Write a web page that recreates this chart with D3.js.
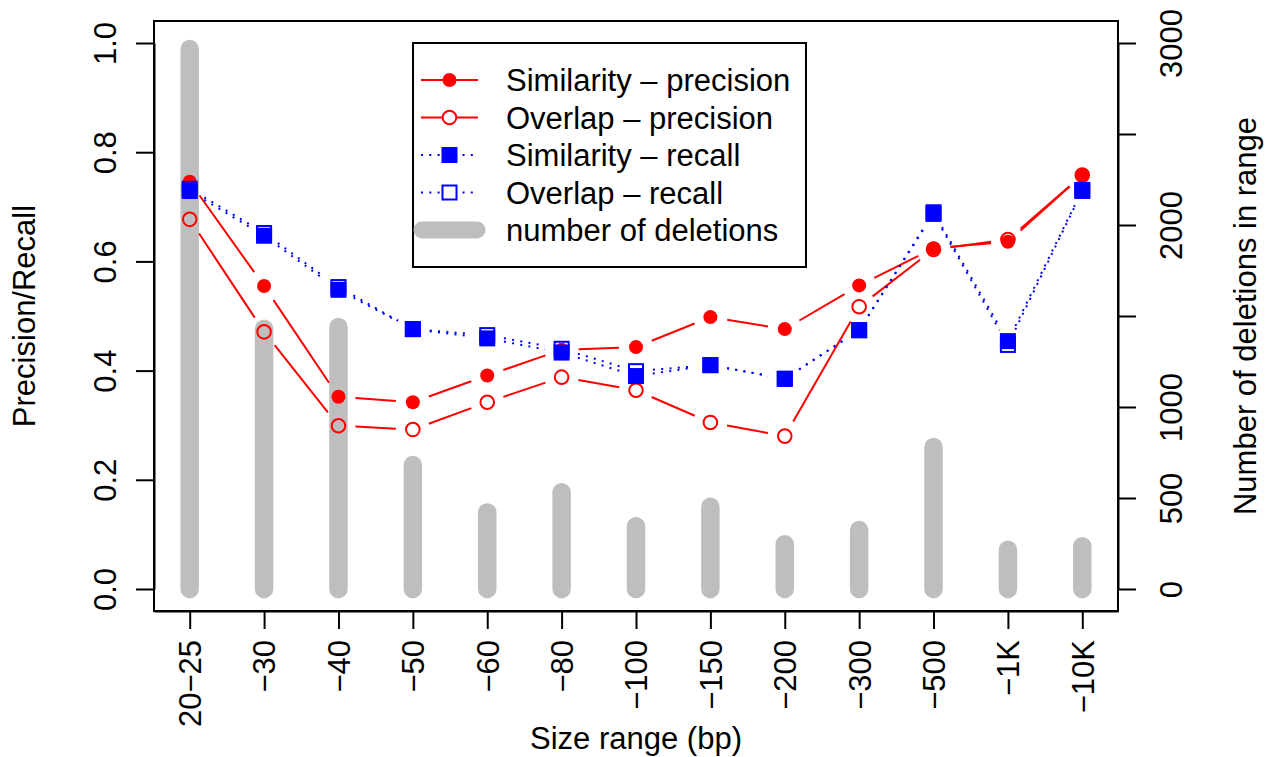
<!DOCTYPE html>
<html>
<head>
<meta charset="utf-8">
<script src="https://cdnjs.cloudflare.com/ajax/libs/d3/7.8.5/d3.min.js"></script>
<style>
  body { margin: 0; background: #fff; }
  text { font-family: "Liberation Sans", Arial, Helvetica, sans-serif; }
</style>
</head>
<body>
<div id="chart"></div>
<script>
// Data
var sizeRanges   = ['20\u221225', '\u221230', '\u221240', '\u221250', '\u221260', '\u221280', '\u2212100',
                    '\u2212150', '\u2212200', '\u2212300', '\u2212500', '\u22121K', '\u221210K'];
var simPrecision = [0.746, 0.555, 0.352, 0.342, 0.391, 0.438, 0.443, 0.498, 0.476, 0.556, 0.624, 0.636, 0.758];
var ovlPrecision = [0.677, 0.471, 0.299, 0.292, 0.342, 0.388, 0.364, 0.305, 0.280, 0.517, 0.622, 0.640, 0.758];
var simRecall    = [0.729, 0.647, 0.548, 0.476, 0.459, 0.433, 0.390, 0.410, 0.385, 0.474, 0.690, 0.454, 0.731];
var ovlRecall    = [0.733, 0.652, 0.553, 0.476, 0.465, 0.440, 0.399, 0.410, 0.385, 0.474, 0.687, 0.447, 0.729];
var deletions    = [2967, 1430, 1440, 681, 421, 531, 345, 452, 246, 324, 780, 216, 235];

var precisionTicks = [0, 0.2, 0.4, 0.6, 0.8, 1.0];
var countTicks     = [0, 500, 1000, 1500, 2000, 2500, 3000];
var countLabelled  = [0, 500, 1000, 2000, 3000];

var legendLabels = ['Similarity \u2013 precision', 'Overlap \u2013 precision',
                    'Similarity \u2013 recall', 'Overlap \u2013 recall', 'number of deletions'];

// The SVG
var width = 1266, height = 757;
var plotLeft = 154, plotRight = 1118, plotTop = 21, plotBottom = 611;
var fontSize = 31;

var svg = d3.select('#chart')
  .append('svg')
  .attr('width', width)
  .attr('height', height);

var x = d3.scalePoint().domain(sizeRanges).range([plotLeft, plotRight]).padding(0.48);
var y = d3.scaleLinear().domain([0, 1]).range([589, 43]);
var yCount = d3.scaleLinear().domain([0, 3000]).range([589, 43]);

// gray bars for the number of deletions
svg.append('g').selectAll('line')
  .data(deletions)
  .enter()
  .append('line')
  .attr('x1', function(d, i) { return x(sizeRanges[i]); })
  .attr('x2', function(d, i) { return x(sizeRanges[i]); })
  .attr('y1', yCount(0))
  .attr('y2', function(d) { return yCount(d); })
  .attr('stroke', '#bebebe')
  .attr('stroke-width', 18.5)
  .attr('stroke-linecap', 'round');

// lines with gaps round the points (R type "b")
function drawSeries(values, color, dash, shape, filled) {
  var pts = values.map(function(v, i) { return [x(sizeRanges[i]), y(v)]; });
  var gap = 17;
  var segs = [];
  for (var i = 0; i < pts.length - 1; i++) {
    var dx = pts[i + 1][0] - pts[i][0], dy = pts[i + 1][1] - pts[i][1];
    var len = Math.sqrt(dx * dx + dy * dy);
    if (len <= 2 * gap) continue;
    var ux = dx / len, uy = dy / len;
    segs.push([pts[i][0] + ux * gap, pts[i][1] + uy * gap, pts[i + 1][0] - ux * gap, pts[i + 1][1] - uy * gap]);
  }
  var g = svg.append('g');
  g.selectAll('line')
    .data(segs)
    .enter()
    .append('line')
    .attr('x1', function(d) { return d[0]; })
    .attr('y1', function(d) { return d[1]; })
    .attr('x2', function(d) { return d[2]; })
    .attr('y2', function(d) { return d[3]; })
    .attr('stroke', color)
    .attr('stroke-width', 2)
    .attr('stroke-dasharray', dash);
  drawSymbols(g, pts, color, shape, filled);
}

function drawSymbols(g, pts, color, shape, filled) {
  if (shape === 'circle') {
    g.selectAll('circle')
      .data(pts)
      .enter()
      .append('circle')
      .attr('cx', function(d) { return d[0]; })
      .attr('cy', function(d) { return d[1]; })
      .attr('r', filled ? 7 : 6.8)
      .attr('fill', filled ? color : 'none')
      .attr('stroke', filled ? 'none' : color)
      .attr('stroke-width', 2);
  } else {
    var s = filled ? 16 : 14;
    g.selectAll('rect')
      .data(pts)
      .enter()
      .append('rect')
      .attr('x', function(d) { return d[0] - s / 2; })
      .attr('y', function(d) { return d[1] - s / 2; })
      .attr('width', s)
      .attr('height', s)
      .attr('fill', filled ? color : 'none')
      .attr('stroke', filled ? 'none' : color)
      .attr('stroke-width', 2);
  }
}

drawSeries(simPrecision, 'red', null, 'circle', true);
drawSeries(ovlPrecision, 'red', null, 'circle', false);
drawSeries(simRecall, 'blue', '2,6.3', 'square', true);
drawSeries(ovlRecall, 'blue', '2,6.3', 'square', false);

// plot box
svg.append('rect')
  .attr('x', plotLeft)
  .attr('y', plotTop)
  .attr('width', plotRight - plotLeft)
  .attr('height', plotBottom - plotTop)
  .attr('fill', 'none')
  .attr('stroke', 'black')
  .attr('stroke-width', 2);

// axes
function styleAxis(g) {
  g.attr('font-size', fontSize).attr('font-family', '"Liberation Sans", Arial, sans-serif');
  g.selectAll('.domain').attr('stroke-width', 2);
  g.selectAll('.tick line').attr('stroke-width', 2);
  g.selectAll('text').attr('fill', 'black');
}

var leftAxis = svg.append('g')
  .attr('transform', 'translate(' + plotLeft + ',0)')
  .call(d3.axisLeft(y).tickValues(precisionTicks).tickFormat(d3.format('.1f')).tickSize(18).tickSizeOuter(0));
styleAxis(leftAxis);
leftAxis.selectAll('text')
  .attr('transform', 'rotate(-90)')
  .attr('x', 0)
  .attr('y', -38)
  .attr('dy', null)
  .attr('text-anchor', 'middle');

var bottomAxis = svg.append('g')
  .attr('transform', 'translate(0,' + plotBottom + ')')
  .call(d3.axisBottom(x).tickSize(18).tickSizeOuter(0));
styleAxis(bottomAxis);
bottomAxis.selectAll('text')
  .attr('transform', 'rotate(-90)')
  .attr('x', -29)
  .attr('y', 0)
  .attr('dy', '0.35em')
  .attr('text-anchor', 'end');

var rightAxis = svg.append('g')
  .attr('transform', 'translate(' + plotRight + ',0)')
  .call(d3.axisRight(yCount).tickValues(countTicks)
    .tickFormat(function(d) { return countLabelled.indexOf(d) >= 0 ? d : ''; })
    .tickSize(18).tickSizeOuter(0));
styleAxis(rightAxis);
rightAxis.selectAll('text')
  .attr('transform', 'rotate(-90)')
  .attr('x', 0)
  .attr('y', 64)
  .attr('dy', null)
  .attr('text-anchor', 'middle');

// axis titles
svg.append('text')
  .attr('transform', 'translate(35,316) rotate(-90)')
  .attr('text-anchor', 'middle')
  .attr('font-size', fontSize)
  .text('Precision/Recall');

svg.append('text')
  .attr('transform', 'translate(1256,316) rotate(-90)')
  .attr('text-anchor', 'middle')
  .attr('font-size', fontSize)
  .text('Number of deletions in range');

svg.append('text')
  .attr('x', (plotLeft + plotRight) / 2)
  .attr('y', 749)
  .attr('text-anchor', 'middle')
  .attr('font-size', fontSize)
  .text('Size range (bp)');

// legend
var legend = svg.append('g');
legend.append('rect')
  .attr('x', 413)
  .attr('y', 43)
  .attr('width', 393)
  .attr('height', 224)
  .attr('fill', 'white')
  .attr('stroke', 'black')
  .attr('stroke-width', 2);

var legendStyle = [
  { color: 'red', dash: null, shape: 'circle', filled: true },
  { color: 'red', dash: null, shape: 'circle', filled: false },
  { color: 'blue', dash: '2,6.3', shape: 'square', filled: true },
  { color: 'blue', dash: '2,6.3', shape: 'square', filled: false },
  { color: '#bebebe', dash: null, shape: 'bar', filled: true }
];

legendLabels.forEach(function(label, i) {
  var ly = 80 + i * 37.5;
  var st = legendStyle[i];
  var row = legend.append('g');
  if (st.shape === 'bar') {
    row.append('line')
      .attr('x1', 422).attr('x2', 477)
      .attr('y1', ly).attr('y2', ly)
      .attr('stroke', st.color)
      .attr('stroke-width', 17)
      .attr('stroke-linecap', 'round');
  } else {
    row.append('line')
      .attr('x1', 421).attr('x2', 478)
      .attr('y1', ly).attr('y2', ly)
      .attr('stroke', st.color)
      .attr('stroke-width', 2)
      .attr('stroke-dasharray', st.dash);
    drawSymbols(row, [[449.5, ly]], st.color, st.shape, st.filled);
    if (!st.filled) {
      row.selectAll('circle, rect').attr('fill', 'white');
    }
  }
  row.append('text')
    .attr('x', 506)
    .attr('y', ly)
    .attr('dy', '0.36em')
    .attr('font-size', fontSize)
    .text(label);
});
</script>
</body>
</html>
